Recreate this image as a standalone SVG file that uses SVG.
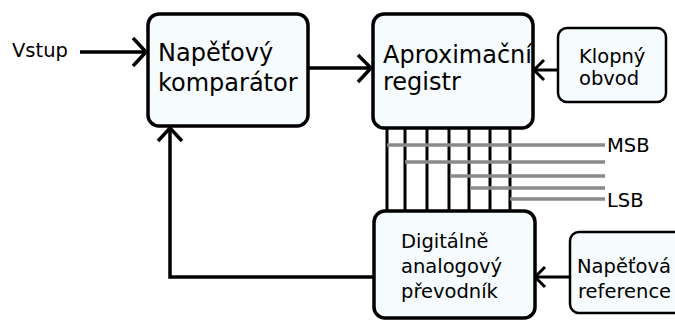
<svg xmlns="http://www.w3.org/2000/svg" width="675" height="320" viewBox="0 0 675 320">
  <style>
    .box { fill: #f6fbfd; stroke: #000; stroke-width: 3.5; }
    .box-thin { fill: #f6fbfd; stroke: #000; stroke-width: 2.5; }
    .lbl { font-family: "DejaVu Sans", Verdana, sans-serif; fill: #000; }
    .big { font-size: 24px; }
    .mid { font-size: 19.5px; }
    .wire { fill: none; stroke: #000; stroke-width: 3.5; }
    .wire-thin { fill: none; stroke: #000; stroke-width: 3; }
    .bus { fill: none; stroke: #000; stroke-width: 3; }
    .bit { fill: none; stroke: #8a8a8a; stroke-width: 3.5; }
  </style>

  <!-- connectors -->
  <g id="connectors">
    <!-- input Vstup -> comparator -->
    <path class="wire" d="M80 52 H146"/>
    <path class="wire" d="M133 38 L146 52 L133 66"/>
    <!-- comparator -> register -->
    <path class="wire" d="M308 68 H371"/>
    <path class="wire" d="M358 55 L371 68 L358 82"/>
    <!-- flip-flop -> register -->
    <path class="wire-thin" d="M558 70 H535"/>
    <path class="wire-thin" d="M544 60 L534 70 L544 80"/>
    <!-- reference -> DAC -->
    <path class="wire-thin" d="M570 277 H536"/>
    <path class="wire-thin" d="M545 267 L535 277 L545 287"/>
    <!-- DAC feedback -> comparator -->
    <path class="wire" d="M373 277 H170 V128"/>
    <path class="wire" d="M158 141 L170 128 L182 141"/>
    <!-- parallel bus register -> DAC -->
    <g class="bus">
      <path d="M387 128 V210"/>
      <path d="M405 128 V210"/>
      <path d="M427 128 V210"/>
      <path d="M449 128 V210"/>
      <path d="M469 128 V210"/>
      <path d="M490 128 V210"/>
      <path d="M510 128 V210"/>
    </g>
    <!-- output bit taps -->
    <g class="bit">
      <path d="M387 145 H605"/>
      <path d="M405 162 H605"/>
      <path d="M450 176 H605"/>
      <path d="M470 188 H605"/>
      <path d="M510 199 H605"/>
    </g>
  </g>

  <!-- Vstup label -->
  <g id="input">
    <text class="lbl mid" x="12" y="57">Vstup</text>
  </g>

  <g id="comparator">
    <rect class="box" x="148" y="14" width="160" height="112" rx="11"/>
    <text class="lbl big" x="158" y="61">Napěťový</text>
    <text class="lbl big" x="158" y="91">komparátor</text>
  </g>

  <g id="register">
    <rect class="box" x="373" y="14" width="160" height="114" rx="11"/>
    <text class="lbl big" x="383" y="63">Aproximační</text>
    <text class="lbl big" x="383" y="90">registr</text>
  </g>

  <g id="flipflop">
    <rect class="box-thin" x="558" y="28" width="108" height="74" rx="9"/>
    <text class="lbl mid" x="579" y="63">Klopný</text>
    <text class="lbl mid" x="579" y="85">obvod</text>
  </g>

  <g id="dac">
    <rect class="box" x="374" y="211" width="161" height="107" rx="11"/>
    <text class="lbl mid" x="401" y="248">Digitálně</text>
    <text class="lbl mid" x="401" y="273">analogový</text>
    <text class="lbl mid" x="401" y="298">převodník</text>
  </g>

  <g id="reference">
    <rect class="box-thin" x="570" y="232" width="120" height="81" rx="9"/>
    <text class="lbl mid" x="577" y="273">Napěťová</text>
    <text class="lbl mid" x="578" y="298">reference</text>
  </g>

  <g id="bit-labels">
    <text class="lbl mid" x="607" y="152">MSB</text>
    <text class="lbl mid" x="607" y="207">LSB</text>
  </g>
</svg>
